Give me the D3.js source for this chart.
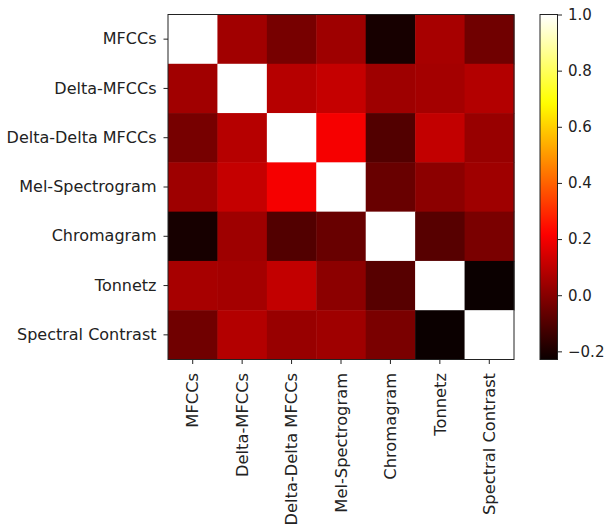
<!DOCTYPE html>
<html>
<head>
<meta charset="utf-8">
<script src="https://cdn.jsdelivr.net/npm/d3@7"></script>
<style>
  body { margin: 0; background: #fff; }
  svg text { font-family: "DejaVu Sans", sans-serif; fill: #222; }
</style>
</head>
<body>
<svg width="607" height="532"></svg>
<script>
// feature names (rows and columns)
const features = ["MFCCs", "Delta-MFCCs", "Delta-Delta MFCCs", "Mel-Spectrogram",
    "Chromagram", "Tonnetz", "Spectral Contrast"];

// correlation matrix, one row per feature
const corrMFCC     = [1.000, 0.048, -0.030, 0.041, -0.206, 0.058, -0.043];
const corrDelta    = [0.048, 1.000, 0.085, 0.114, 0.042, 0.052, 0.081];
const corrDelta2   = [-0.030, 0.085, 1.000, 0.204, -0.098, 0.107, 0.030];
const corrMel      = [0.041, 0.114, 0.204, 1.000, -0.058, 0.008, 0.044];
const corrChroma   = [-0.206, 0.042, -0.098, -0.058, 1.000, -0.089, -0.025];
const corrTonnetz  = [0.058, 0.052, 0.107, 0.008, -0.089, 1.000, -0.229];
const corrSpectral = [-0.043, 0.081, 0.030, 0.044, -0.025, -0.229, 1.000];
const corr = [corrMFCC, corrDelta, corrDelta2, corrMel, corrChroma, corrTonnetz, corrSpectral];

const cbarTicks = [-0.2, 0.0, 0.2, 0.4, 0.6, 0.8, 1.0];

const svg = d3.select("svg");

const plot = { left: 168, top: 14.5, width: 346, height: 345 };
const cbar = { left: 540, top: 14.5, width: 17.5, height: 345 };

// matplotlib "hot" colormap
function hot(t) {
    t = Math.max(0, Math.min(1, t));
    const r = t < 0.365079 ? 0.0416 + (1 - 0.0416) * t / 0.365079 : 1;
    const g = t < 0.365079 ? 0 : (t < 0.746032 ? (t - 0.365079) / (0.746032 - 0.365079) : 1);
    const b = t < 0.746032 ? 0 : (t - 0.746032) / (1 - 0.746032);
    return d3.rgb(r * 255, g * 255, b * 255).toString();
}

const allVals = corr.flat();
const vmin = d3.min(allVals), vmax = d3.max(allVals);
const norm = d3.scaleLinear().domain([vmin, vmax]).range([0, 1]);
const color = v => hot(norm(v));

const x = d3.scaleBand().domain(features).range([plot.left, plot.left + plot.width]);
const y = d3.scaleBand().domain(features).range([plot.top, plot.top + plot.height]);

// cells
const cells = [];
corr.forEach((row, i) => row.forEach((v, j) => cells.push({ r: features[i], c: features[j], v })));

svg.append("g").selectAll("rect")
    .data(cells)
    .join("rect")
    .attr("x", d => x(d.c))
    .attr("y", d => y(d.r))
    .attr("width", x.bandwidth() + 0.5)
    .attr("height", y.bandwidth() + 0.5)
    .attr("fill", d => color(d.v));

svg.append("rect")
    .attr("x", plot.left).attr("y", plot.top)
    .attr("width", plot.width).attr("height", plot.height)
    .attr("fill", "none").attr("stroke", "#222").attr("stroke-width", 1);

// axes
const yAxis = svg.append("g")
    .attr("transform", `translate(${plot.left},0)`)
    .call(d3.axisLeft(y).tickSize(4.5).tickPadding(7));
const xAxis = svg.append("g")
    .attr("transform", `translate(0,${plot.top + plot.height})`)
    .call(d3.axisBottom(x).tickSize(4.5).tickPadding(5));

[xAxis, yAxis].forEach(a => {
    a.select(".domain").remove();
    a.selectAll(".tick line").attr("stroke", "#222");
    a.selectAll(".tick text").attr("fill", "#222");
});
yAxis.selectAll(".tick text").style("font-size", "16px");

xAxis.selectAll(".tick text")
    .style("font-size", "16.3px")
    .attr("transform", "rotate(-90)")
    .attr("text-anchor", "end")
    .attr("x", -13.5)
    .attr("y", 0)
    .attr("dy", "0.35em");

// colorbar
const defs = svg.append("defs");
const grad = defs.append("linearGradient")
    .attr("id", "hotgrad")
    .attr("x1", 0).attr("y1", 1).attr("x2", 0).attr("y2", 0);
d3.range(0, 1.0001, 0.02).forEach(t => {
    grad.append("stop").attr("offset", t).attr("stop-color", hot(t));
});

svg.append("rect")
    .attr("x", cbar.left).attr("y", cbar.top)
    .attr("width", cbar.width).attr("height", cbar.height)
    .attr("fill", "url(#hotgrad)")
    .attr("stroke", "#222").attr("stroke-width", 1);

const cy = d3.scaleLinear().domain([vmin, vmax]).range([cbar.top + cbar.height, cbar.top]);
const cAxis = svg.append("g")
    .attr("transform", `translate(${cbar.left + cbar.width},0)`)
    .call(d3.axisRight(cy).tickValues(cbarTicks).tickFormat(d3.format(".1f")).tickSize(4.5).tickPadding(6));
cAxis.select(".domain").remove();
cAxis.selectAll(".tick line").attr("stroke", "#222");
cAxis.selectAll(".tick text").style("font-size", "15px").attr("fill", "#222");
</script>
</body>
</html>
